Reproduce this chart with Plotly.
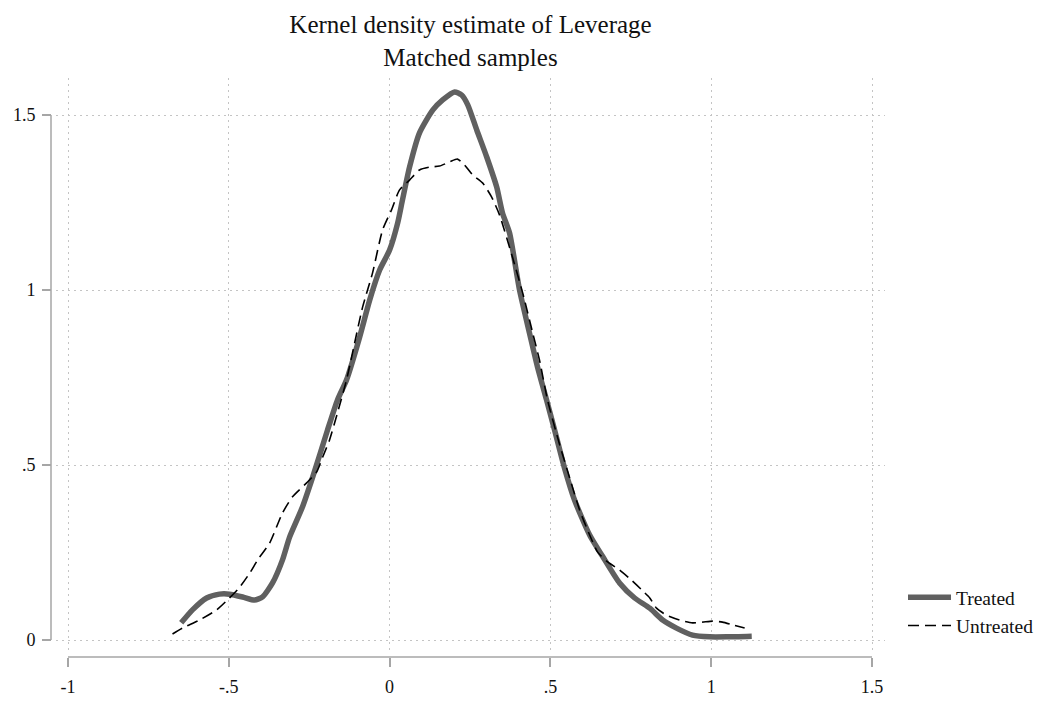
import plotly.graph_objects as go

# Kernel density estimates of leverage for the matched samples
treated_x = [-0.648, -0.613, -0.569, -0.529, -0.498, -0.457, -0.420, -0.395, -0.364, -0.333,
             -0.311, -0.271, -0.239, -0.193, -0.162, -0.134, -0.093, -0.062, -0.031, 0.000,
             0.025, 0.040, 0.062, 0.093, 0.134, 0.165, 0.202, 0.224, 0.243, 0.271,
             0.302, 0.333, 0.351, 0.373, 0.404, 0.435, 0.460, 0.488, 0.513, 0.544,
             0.575, 0.622, 0.669, 0.715, 0.762, 0.809, 0.849, 0.892, 0.942, 0.995,
             1.048, 1.126]
treated_y = [0.049, 0.086, 0.120, 0.131, 0.131, 0.123, 0.114, 0.123, 0.163, 0.229,
             0.294, 0.380, 0.466, 0.600, 0.686, 0.743, 0.866, 0.971, 1.057, 1.114,
             1.191, 1.257, 1.351, 1.449, 1.514, 1.543, 1.566, 1.557, 1.529, 1.457,
             1.380, 1.294, 1.220, 1.163, 1.000, 0.877, 0.780, 0.686, 0.600, 0.491,
             0.400, 0.300, 0.229, 0.163, 0.120, 0.091, 0.057, 0.034, 0.014, 0.009,
             0.009, 0.011]

untreated_x = [-0.675, -0.644, -0.591, -0.538, -0.498, -0.466, -0.435, -0.410, -0.373, -0.333,
               -0.302, -0.258, -0.227, -0.208, -0.187, -0.162, -0.134, -0.084, -0.053, -0.022,
               0.006, 0.031, 0.062, 0.093, 0.124, 0.155, 0.187, 0.211, 0.233, 0.258,
               0.289, 0.317, 0.342, 0.382, 0.414, 0.445, 0.466, 0.491, 0.529, 0.560,
               0.591, 0.622, 0.647, 0.678, 0.715, 0.752, 0.784, 0.809, 0.830, 0.861,
               0.902, 0.942, 0.973, 1.004, 1.035, 1.067, 1.104]
untreated_y = [0.017, 0.034, 0.057, 0.086, 0.120, 0.151, 0.191, 0.229, 0.277, 0.363,
               0.409, 0.449, 0.480, 0.523, 0.571, 0.649, 0.743, 0.951, 1.049, 1.171,
               1.229, 1.286, 1.314, 1.343, 1.351, 1.354, 1.366, 1.374, 1.357, 1.329,
               1.306, 1.266, 1.214, 1.094, 0.991, 0.877, 0.800, 0.686, 0.557, 0.463,
               0.371, 0.300, 0.251, 0.223, 0.200, 0.171, 0.143, 0.120, 0.091, 0.071,
               0.057, 0.049, 0.051, 0.054, 0.051, 0.043, 0.034]

x_ticks = [-1, -0.5, 0, 0.5, 1, 1.5]
x_tick_labels = ["-1", "-.5", "0", ".5", "1", "1.5"]
y_ticks = [0, 0.5, 1, 1.5]
y_tick_labels = ["0", ".5", "1", "1.5"]

FONT = "Liberation Serif"
AXIS_GRAY = "#a6a6a6"
GRID_GRAY = "#c4c4c4"

fig = go.Figure()
fig.add_trace(go.Scatter(
    x=treated_x, y=treated_y, mode="lines", name="Treated",
    line=dict(color="#606060", width=5.5, shape="spline", smoothing=0.6),
))
fig.add_trace(go.Scatter(
    x=untreated_x, y=untreated_y, mode="lines", name="Untreated",
    line=dict(color="#000000", width=1.6, dash="11px,6px", shape="spline", smoothing=0.6),
))

# Detached axis lines spanning only the labelled tick range
fig.add_shape(type="line", xref="x", yref="paper", x0=x_ticks[0], x1=x_ticks[-1], y0=0, y1=0,
              line=dict(color=AXIS_GRAY, width=1.5))
fig.add_shape(type="line", xref="paper", yref="y", x0=0, x1=0, y0=y_ticks[0], y1=y_ticks[-1],
              line=dict(color=AXIS_GRAY, width=1.5))

fig.update_layout(
    width=1048, height=702,
    margin=dict(l=51, r=163, t=78, b=45),
    paper_bgcolor="white", plot_bgcolor="white",
    font=dict(family=FONT, color="#111111"),
    title=dict(
        text="Kernel density estimate of Leverage<br>Matched samples",
        x=(56 + 885) / 2 / 1048, xanchor="center",
        y=1 - 33 / 702, yanchor="top", yref="container",
        font=dict(family=FONT, size=25, color="#111111"),
    ),
    xaxis=dict(
        domain=[5 / 834, 1], anchor="free", position=0, automargin=False,
        range=[-1.0373, 1.5404], tickmode="array", tickvals=x_ticks, ticktext=x_tick_labels,
        showline=False, zeroline=False,
        ticks="outside", ticklen=9, tickwidth=1.5, tickcolor=AXIS_GRAY,
        ticklabelstandoff=4,
        showgrid=True, gridcolor=GRID_GRAY, gridwidth=1, griddash="1.5px,4.5px",
        tickfont=dict(family=FONT, size=18, color="#111111"),
    ),
    yaxis=dict(
        domain=[5 / 579, 1], anchor="free", position=0, automargin=False,
        range=[-0.0343, 1.6057], tickmode="array", tickvals=y_ticks, ticktext=y_tick_labels,
        showline=False, zeroline=False,
        ticks="outside", ticklen=9, tickwidth=1.5, tickcolor=AXIS_GRAY,
        ticklabelstandoff=3,
        showgrid=True, gridcolor=GRID_GRAY, gridwidth=1, griddash="1.5px,4.5px",
        tickfont=dict(family=FONT, size=18, color="#111111"),
    ),
    showlegend=True,
    legend=dict(
        xref="container", yref="container",
        x=903 / 1048, xanchor="left", y=1 - 578 / 702, yanchor="top",
        itemwidth=43,
        font=dict(family=FONT, size=19.5, color="#111111"),
        bgcolor="rgba(0,0,0,0)", borderwidth=0,
    ),
)

fig.write_html("out.html")
